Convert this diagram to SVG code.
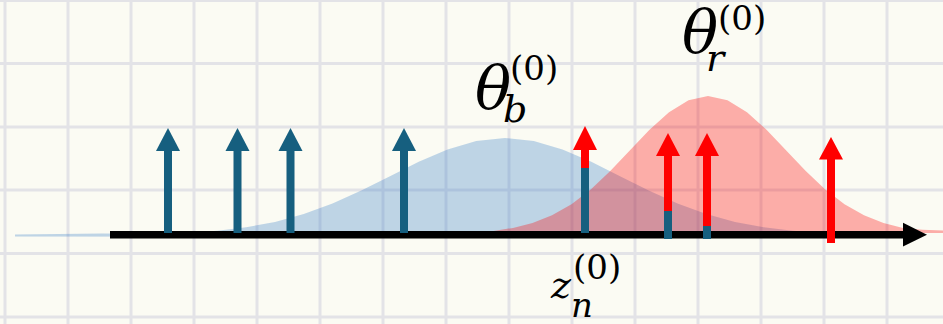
<svg xmlns="http://www.w3.org/2000/svg" width="943" height="324" viewBox="0 0 943 324">
<style>
.grid line{stroke:#e3e3e7;stroke-width:3}
.blue{fill:#337cc8;fill-opacity:0.3}
.red{fill:#ff0000;fill-opacity:0.31}
.ab{fill:#165f7f}
.ar{fill:#ff0000}
.t{font-family:"DejaVu Serif",serif;fill:#000}
.i{font-style:italic}
</style>
<rect x="0" y="0" width="943" height="324" fill="#fbfbf3"/>
<g class="grid">
<line x1="5" y1="0" x2="5" y2="324"/><line x1="68" y1="0" x2="68" y2="324"/><line x1="131" y1="0" x2="131" y2="324"/><line x1="194" y1="0" x2="194" y2="324"/><line x1="257" y1="0" x2="257" y2="324"/><line x1="320" y1="0" x2="320" y2="324"/><line x1="383" y1="0" x2="383" y2="324"/><line x1="446" y1="0" x2="446" y2="324"/><line x1="509" y1="0" x2="509" y2="324"/><line x1="572" y1="0" x2="572" y2="324"/><line x1="635" y1="0" x2="635" y2="324"/><line x1="698" y1="0" x2="698" y2="324"/><line x1="761" y1="0" x2="761" y2="324"/><line x1="824" y1="0" x2="824" y2="324"/><line x1="887" y1="0" x2="887" y2="324"/>
<line x1="0" y1="0.5" x2="943" y2="0.5"/><line x1="0" y1="63.5" x2="943" y2="63.5"/><line x1="0" y1="127" x2="943" y2="127"/><line x1="0" y1="190" x2="943" y2="190"/><line x1="0" y1="253.5" x2="943" y2="253.5"/><line x1="0" y1="317" x2="943" y2="317"/>
</g>
<g id="dist-blue">
<polygon class="blue" points="15,234.5 102.5,233.5 160,233.9 188.75,232.8 217.5,230.7 246.25,227.3 275,221.9 303.75,214 332.5,203.5 361.25,190.6 390,176.2 418.75,161.8 447.5,149.4 476.25,141 505,138 533.75,141 562.5,149.4 591.25,161.8 620,176.2 648.75,190.6 677.5,203.5 706.25,214 735,221.9 763.75,227.3 792.5,230.7 821.25,232.8 850,233.9 907.5,234.8 907.5,237 15,236.5"/>
</g>
<g id="dist-red">
<polygon class="red" points="400,233.9 435,233.7 474,232.5 493.5,230.9 513,227.9 532.5,223 552,215.3 571.5,204.2 591,189.2 610.5,170.8 630,150.3 649.5,129.8 669,112.2 688.5,100.3 708,96 727.5,100.3 747,112.2 766.5,129.8 786,150.3 805.5,170.8 825,189.2 844.5,204.2 864,215.3 883.5,223 903,227.9 922.5,229.8 943,230.5 943,233 400,234"/>
</g>
<g id="axis">
<rect x="110" y="231" width="796" height="7.5" fill="#000"/>
<polygon points="903,222.7 927,234.7 903,246.5" fill="#000"/>
</g>
<g id="connectors">
<g id="arrow1"><rect class="ab" x="164" y="150" width="8" height="83"/><polygon class="ab" points="156,151 168,128 180,151"/></g>
<g id="arrow2"><rect class="ab" x="233.5" y="150" width="8" height="83"/><polygon class="ab" points="225.5,151 237.5,128 249.5,151"/></g>
<g id="arrow3"><rect class="ab" x="286.5" y="150" width="8" height="83"/><polygon class="ab" points="278.5,151 290.5,128 302.5,151"/></g>
<g id="arrow4"><rect class="ab" x="400" y="150" width="8" height="83"/><polygon class="ab" points="392,151 404,128 416,151"/></g>
<g id="arrow5"><rect class="ab" x="581" y="168" width="8" height="65"/><rect class="ar" x="581" y="149" width="8" height="19"/><polygon class="ar" points="573,150 585,126 597,150"/></g>
<g id="arrow6"><rect class="ab" x="664" y="211" width="8" height="28"/><rect class="ar" x="664" y="155" width="8" height="56"/><polygon class="ar" points="656,156 668,133 680,156"/></g>
<g id="arrow7"><rect class="ab" x="703" y="226" width="8" height="13"/><rect class="ar" x="703" y="155" width="8" height="71"/><polygon class="ar" points="695,156 707,133 719,156"/></g>
<g id="arrow8"><rect class="ar" x="827" y="158" width="8" height="85"/><polygon class="ar" points="819,159.5 831,137 843,159.5"/></g>
</g>
<g id="label-theta-b">
<text class="t i" x="475" y="109" font-size="60">θ</text>
<text class="t i" x="503" y="122" font-size="38">b</text>
<text class="t" x="510" y="80" font-size="34">(0)</text>
</g>
<g id="label-theta-r">
<text class="t i" x="682" y="53" font-size="60">θ</text>
<text class="t i" x="706" y="71" font-size="38">r</text>
<text class="t" x="718" y="30" font-size="34">(0)</text>
</g>
<g id="label-z-n">
<text class="t i" x="551" y="298" font-size="38">z</text>
<text class="t i" x="571" y="317" font-size="34">n</text>
<text class="t" x="573" y="279" font-size="34">(0)</text>
</g>
</svg>
